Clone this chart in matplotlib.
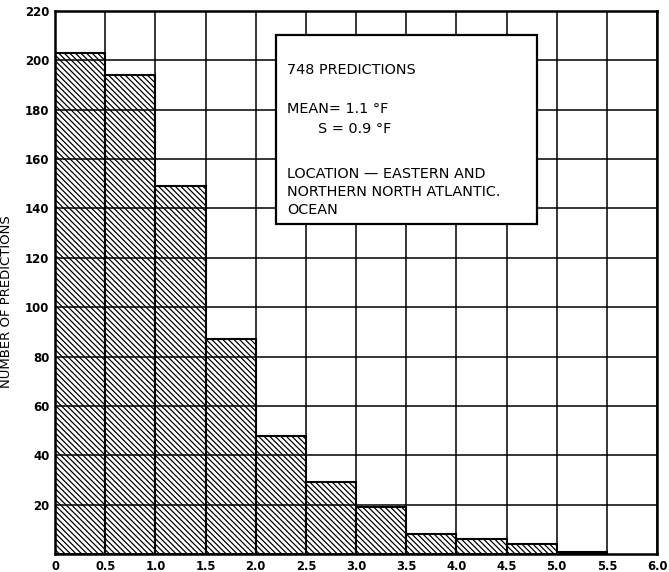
import matplotlib
matplotlib.use("Agg")
import matplotlib.pyplot as plt
import numpy as np

bin_edges = [0, 0.5, 1.0, 1.5, 2.0, 2.5, 3.0, 3.5, 4.0, 4.5, 5.0, 5.5]
counts = [203, 194, 149, 87, 48, 29, 19, 8, 6, 4, 1]
x_ticks = [0, 0.5, 1.0, 1.5, 2.0, 2.5, 3.0, 3.5, 4.0, 4.5, 5.0, 5.5, 6.0]
x_labels = ["0", "0.5", "1.0", "1.5", "2.0", "2.5", "3.0", "3.5", "4.0", "4.5", "5.0", "5.5", "6.0"]
y_ticks = [20, 40, 60, 80, 100, 120, 140, 160, 180, 200, 220]
y_label = "NUMBER OF PREDICTIONS"
box_lines = ["748 PREDICTIONS", "MEAN= 1.1 °F", "S = 0.9 °F",
             "LOCATION — EASTERN AND", "NORTHERN NORTH ATLANTIC.", "OCEAN"]

plt.rcParams['hatch.linewidth'] = 0.9
plt.rcParams['font.family'] = ['DejaVu Sans']

W, H = 669, 572
L, R, T, B = 55, 657, 11, 554
fig = plt.figure(figsize=(W / 100, H / 100), dpi=100)
ax = fig.add_axes([L / W, (H - B) / H, (R - L) / W, (B - T) / H])
ax.set_axisbelow(False)

widths = np.diff(bin_edges)
ax.bar(bin_edges[:-1], counts, width=widths, align='edge', color='white',
       edgecolor='black', linewidth=1.5, hatch='\\\\\\\\\\\\', zorder=2)

ax.set_xlim(0, 6.0)
ax.set_ylim(0, 220)
ax.set_xticks(x_ticks)
ax.set_xticklabels(x_labels, fontsize=8.3, fontweight='bold')
ax.set_yticks(y_ticks)
ax.set_yticklabels([str(v) for v in y_ticks], fontsize=8.5, fontweight='bold')
ax.tick_params(length=0, pad=4)
ax.grid(True, color='black', linewidth=1.1)
for s in ax.spines.values():
    s.set_linewidth(1.8)
    s.set_zorder(5)
ax.set_ylabel(y_label, fontsize=9.5)
ax.yaxis.set_label_coords((13 - L) / (R - L), (B - 302) / (B - T))


def xax(px):
    return (px - L) / (R - L)


def yax(py):
    return (B - py) / (B - T)


# annotation box
bx0, bx1, by1, by0 = xax(276), xax(537), yax(35), yax(224)
rect = plt.Rectangle((bx0, by0), bx1 - bx0, by1 - by0, transform=ax.transAxes,
                     facecolor='white', edgecolor='black', linewidth=1.6, zorder=6)
ax.add_patch(rect)
tx = xax(287)
kw = dict(transform=ax.transAxes, fontsize=10.4, va='center', ha='left', zorder=7)
ax.text(tx, yax(70), box_lines[0], **kw)
ax.text(tx, yax(109), box_lines[1], **kw)
ax.text(xax(318), yax(129), box_lines[2], **kw)
ax.text(tx, yax(174), box_lines[3], **kw)
ax.text(tx, yax(192), box_lines[4], **kw)
ax.text(tx, yax(210), box_lines[5], **kw)

fig.savefig("out.png", dpi=100, facecolor='white')
